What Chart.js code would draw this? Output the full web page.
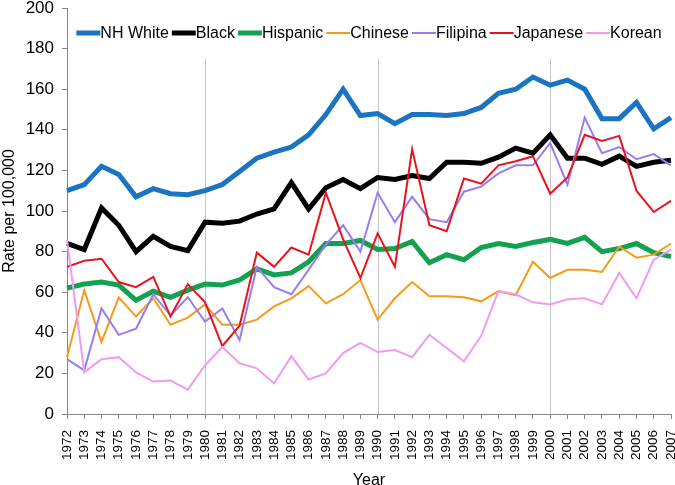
<!DOCTYPE html>
<html>
<head>
<meta charset="utf-8">
<script src="https://cdn.jsdelivr.net/npm/chart.js@4/dist/chart.umd.min.js"></script>
<style>
    html, body { margin: 0; padding: 0; background: #fff; }
    #wrap { width: 675px; height: 485px; position: relative; }
</style>
</head>
<body>
<div id="wrap"><canvas id="rateChart"></canvas></div>
<script>
const years = [
    '1972', '1973', '1974', '1975', '1976', '1977', '1978', '1979', '1980', '1981', '1982', '1983',
    '1984', '1985', '1986', '1987', '1988', '1989', '1990', '1991', '1992', '1993', '1994', '1995',
    '1996', '1997', '1998', '1999', '2000', '2001', '2002', '2003', '2004', '2005', '2006', '2007'
];

const nhWhite = [110, 113, 122, 118, 107, 111, 108.5, 108, 110, 113, 119.5, 126, 129, 131.5, 137.5, 147.5, 160, 147,
    148, 143, 147.5, 147.5, 147, 148, 151, 158, 160, 166, 162, 164.5, 160, 145.5, 145.5, 153.5, 140.5, 146];
const black = [84, 81, 101.5, 93, 80, 87.5, 82.5, 80.5, 94.5, 94, 95, 98.5, 101, 114, 101, 111.5, 115.5, 111,
    116.5, 115.5, 117.5, 116, 124, 124, 123.5, 126.5, 131, 128.5, 137.5, 126, 126, 123, 127, 122, 124, 125];
const hispanic = [62, 64, 65, 63.5, 56, 60.5, 57.5, 61, 64, 63.5, 66, 71.5, 68.5, 69.5, 75, 84, 84, 85.5,
    81, 81.5, 85, 74.5, 78.5, 76, 82, 84, 82.5, 84.5, 86, 84, 87, 80, 81.5, 84, 79.5, 77.5];
const chinese = [28, 61, 35.5, 57.5, 48, 57, 44, 47.5, 54, 44, 44, 46.5, 53, 57, 63, 54.5, 59, 66,
    46.5, 57, 65, 58, 58, 57.5, 55.5, 60.5, 58.5, 75, 67, 71, 71, 70, 82.5, 77, 78.5, 84];
const filipina = [27, 21.5, 52, 39, 42, 59, 48.5, 57.5, 45.5, 52, 36.5, 72.5, 62.5, 59, 71, 83.5, 93, 80,
    109, 94.5, 107, 96, 94.5, 109.5, 112, 118.5, 122.5, 122.5, 133.5, 113, 146, 128.5, 131.5, 125.5, 128, 122.5];
const japanese = [72.5, 75.5, 76.5, 65, 62.5, 67.5, 48, 64, 55, 33.5, 43.5, 79.5, 72.5, 82, 78.5, 109, 86, 67,
    89, 72.5, 130.5, 93, 90, 116, 113.5, 122.5, 124.5, 127, 108.5, 116.5, 137.5, 134.5, 137, 110, 99.5, 105];
const korean = [86, 20.5, 27, 28, 20.5, 16, 16.5, 12, 24, 33, 25, 22.5, 15, 28.5, 17, 20, 30, 35,
    30.5, 31.5, 28, 39, 32.5, 26, 38.5, 60.5, 59, 55, 54, 56.5, 57, 54, 69.5, 57, 76, 81];

const seriesNames = ['NH White', 'Black', 'Hispanic', 'Chinese', 'Filipina', 'Japanese', 'Korean'];
const seriesValues = [nhWhite, black, hispanic, chinese, filipina, japanese, korean];
const seriesColors = ['#1a74c2', '#000000', '#12a150', '#f39c1c', '#9a7cf0', '#e8131b', '#f19af1'];
const seriesWidths = [5, 5, 5, 2, 2, 2, 2];

const yTicks = [0, 20, 40, 60, 80, 100, 120, 140, 160, 180, 200];
const markedYears = ['1980', '1990', '2000'];

const FONT = 'Arial, "Liberation Sans", sans-serif';
const AXIS_GRAY = '#868686';

// light vertical lines at the decade marks, stopping under the legend
const decadeLines = {
    id: 'decadeLines',
    beforeDatasetsDraw(chart) {
        const { ctx, scales: { x, y } } = chart;
        ctx.save();
        ctx.strokeStyle = '#c4c4c4';
        ctx.lineWidth = 1;
        markedYears.forEach(yr => {
            const px = Math.round(x.getPixelForValue(years.indexOf(yr))) + 0.5;
            ctx.beginPath();
            ctx.moveTo(px, y.getPixelForValue(175));
            ctx.lineTo(px, y.getPixelForValue(0));
            ctx.stroke();
        });
        ctx.restore();
    }
};

// legend drawn inside the plot, line sample right against its label
const insideLegend = {
    id: 'insideLegend',
    afterDraw(chart) {
        const { ctx, chartArea } = chart;
        const sample = 24;
        const gap = 3;
        ctx.save();
        ctx.font = '16px ' + FONT;
        ctx.textBaseline = 'middle';
        ctx.textAlign = 'left';
        // datasets are stored reversed for draw order, so the legend follows seriesNames
        const items = seriesNames.map((name, i) => ({
            name,
            color: seriesColors[i],
            lw: seriesWidths[i],
            w: ctx.measureText(name).width
        }));
        const total = items.reduce((acc, it) => acc + sample + it.w, 0) + gap * (items.length - 1);
        let x = (chartArea.left + chartArea.right) / 2 - total / 2;
        const yc = chartArea.top + 25;
        items.forEach(it => {
            ctx.strokeStyle = it.color;
            ctx.lineWidth = it.lw;
            ctx.beginPath();
            ctx.moveTo(x, yc);
            ctx.lineTo(x + sample, yc);
            ctx.stroke();
            ctx.fillStyle = '#000';
            ctx.fillText(it.name, x + sample, yc + 1);
            x += sample + it.w + gap;
        });
        ctx.restore();
    }
};

function buildDatasets() {
    // Excel paints the first series first, so reverse to keep Korean on top
    return seriesNames.map((name, i) => ({
        label: name,
        data: seriesValues[i],
        borderColor: seriesColors[i],
        backgroundColor: seriesColors[i],
        borderWidth: seriesWidths[i],
        pointRadius: 0,
        pointHoverRadius: 0,
        tension: 0,
        fill: false,
        borderJoinStyle: 'miter'
    })).reverse();
}

document.addEventListener('DOMContentLoaded', () => {
    const ctx = document.getElementById('rateChart').getContext('2d');
    new Chart(ctx, {
        type: 'line',
        data: { labels: years, datasets: buildDatasets() },
        options: {
            responsive: true,
            maintainAspectRatio: false,
            animation: false,
            layout: { padding: { top: 8, right: 4, left: 0, bottom: 0 } },
            plugins: {
                legend: { display: false },
                tooltip: { enabled: false }
            },
            scales: {
                x: {
                    offset: false,
                    grid: {
                        drawOnChartArea: false,
                        drawTicks: true,
                        tickLength: 5,
                        color: AXIS_GRAY,
                        tickColor: AXIS_GRAY
                    },
                    border: { color: AXIS_GRAY, width: 1 },
                    ticks: {
                        autoSkip: false,
                        minRotation: 90,
                        maxRotation: 90,
                        padding: 11,
                        color: '#000',
                        font: { family: FONT, size: 13.5 }
                    },
                    title: {
                        display: true,
                        text: 'Year',
                        color: '#000',
                        font: { family: FONT, size: 16, lineHeight: 0.6 },
                        padding: { top: 0, bottom: 0 }
                    },
                    afterFit(scale) {
                        scale.height = 71;
                        scale.paddingLeft = 0;
                        scale.paddingRight = 0;
                    }
                },
                y: {
                    min: 0,
                    max: 200,
                    afterBuildTicks(scale) { scale.ticks = yTicks.map(v => ({ value: v })); },
                    grid: {
                        drawOnChartArea: false,
                        drawTicks: true,
                        tickLength: 5,
                        color: AXIS_GRAY,
                        tickColor: AXIS_GRAY
                    },
                    border: { color: AXIS_GRAY, width: 1 },
                    ticks: {
                        padding: 8,
                        color: '#000',
                        font: { family: FONT, size: 17 }
                    },
                    title: {
                        display: true,
                        text: 'Rate per 100,000',
                        color: '#000',
                        font: { family: FONT, size: 16 },
                        padding: { top: 0, bottom: 2 }
                    },
                    afterFit(scale) {
                        scale.width = 67;
                        scale.paddingTop = 0;
                        scale.paddingBottom = 0;
                    }
                }
            }
        },
        plugins: [decadeLines, insideLegend]
    });
});
</script>
</body>
</html>
